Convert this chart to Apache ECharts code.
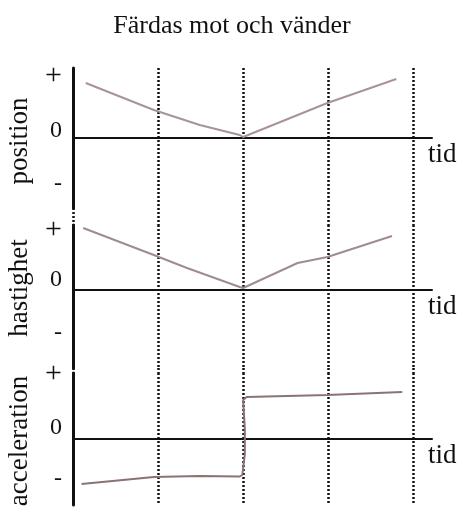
<!DOCTYPE html>
<html>
<head>
<meta charset="utf-8">
<script src="https://cdn.jsdelivr.net/npm/echarts@6/dist/echarts.min.js"></script>
<style>
  html, body { margin: 0; padding: 0; background: #fff; }
  #chart { width: 464px; height: 508px; }
</style>
</head>
<body>
<div id="chart"></div>
<script>
// tidsaxeln: prickade linjer vid varje heltal
var timeTicks = [0, 1, 2, 3, 4];
var signLabels = ['+', '0', '-'];

// [tid, värde]
var positionData = [[0.15, 1.1], [0.95, 0.56], [1.49, 0.26], [1.96, 0.06], [2.0, 0.02], [2.99, 0.7], [3.8, 1.18]];
var velocityData = [[0.12, 1.24], [0.95, 0.7], [1.34, 0.44], [1.96, 0.06], [2.0, 0.04], [2.64, 0.54], [2.99, 0.66], [3.75, 1.08]];
var accelData = [[0.1, -0.9], [0.95, -0.76], [1.49, -0.74], [1.96, -0.75], [1.99, -0.72], [2.02, -0.3], [2.02, 0.2], [2.0, 0.78], [2.04, 0.84], [2.99, 0.88], [3.87, 0.94]];

// var + 0 - sitter på y-axeln
var positionSignValues = [1.24, 0.14, -0.92];
var velocitySignValues = [1.2, 0.2, -0.86];
var accelSignValues = [1.3, 0.22, -0.8];

var serif = "'Liberation Serif', 'DejaVu Serif', serif";
var ink = '#111';

var chart = echarts.init(document.getElementById('chart'));

function timeAxis(gridIndex, withName) {
    return {
        type: 'value',
        gridIndex: gridIndex,
        min: 0,
        max: 4.22,
        interval: 1,
        name: withName ? 'tid' : '',
        nameLocation: 'end',
        nameGap: -4,
        nameTextStyle: {
            fontFamily: serif,
            fontSize: 27,
            color: ink,
            verticalAlign: 'top',
            padding: [3, 0, 0, 0]
        },
        axisLine: { show: withName, onZero: true, lineStyle: { color: ink, width: 2 } },
        axisTick: { show: false, customValues: timeTicks },
        axisLabel: { show: false },
        splitLine: { show: true, lineStyle: { color: ink, width: 2.5, type: [2, 2] } }
    };
}

function signAxis(gridIndex, name, min, max, signValues, namePad) {
    return {
        type: 'value',
        gridIndex: gridIndex,
        min: min,
        max: max,
        name: name,
        nameLocation: 'middle',
        nameRotate: 90,
        nameGap: 40,
        nameTextStyle: {
            fontFamily: serif,
            fontSize: 27,
            color: ink,
            padding: namePad
        },
        axisLine: { show: true, lineStyle: { color: ink, width: 3 } },
        axisTick: { show: false },
        splitLine: { show: false },
        axisLabel: {
            customValues: signValues,
            margin: 11,
            fontFamily: serif,
            fontSize: 24,
            color: ink,
            formatter: function(v) {
                var i = signValues.indexOf(v);
                if (i === 0) return '{plus|+}';
                return i >= 0 ? signLabels[i] : '';
            },
            rich: {
                plus: { fontFamily: serif, fontSize: 30, color: ink }
            }
        }
    };
}

// tomma mellanrum mellan panelerna, bara prickade linjer
function gapAxisY(gridIndex) {
    return { type: 'value', gridIndex: gridIndex, show: false, min: 0, max: 1 };
}

function panel(top, height) {
    return { left: 73, right: 32, top: top, height: height, outerBoundsMode: 'none', containLabel: false };
}

var option = {
    animation: false,
    backgroundColor: '#fff',
    title: {
        text: 'Färdas mot och vänder',
        left: 'center',
        top: 8,
        textStyle: { fontFamily: serif, fontSize: 26, fontWeight: 'normal', color: ink }
    },
    grid: [
        panel(68, 140),
        panel(225, 143),
        panel(373, 132),
        panel(208, 17),
        panel(368, 5)
    ],
    xAxis: [
        timeAxis(0, true),
        timeAxis(1, true),
        timeAxis(2, true),
        timeAxis(3, false),
        timeAxis(4, false)
    ],
    yAxis: [
        signAxis(0, 'position', -1.4, 1.4, positionSignValues, [0, 6, 0, 0]),
        signAxis(1, 'hastighet', -1.56, 1.3, velocitySignValues, [0, 0, 0, 17]),
        signAxis(2, 'acceleration', -1.32, 1.32, accelSignValues, [0, 4, 0, 0]),
        gapAxisY(3),
        gapAxisY(4)
    ],
    series: [
        {
            type: 'line', xAxisIndex: 0, yAxisIndex: 0, data: positionData,
            showSymbol: false, lineStyle: { color: '#a89494', width: 2 }
        },
        {
            type: 'line', xAxisIndex: 1, yAxisIndex: 1, data: velocityData,
            showSymbol: false, lineStyle: { color: '#a08c8c', width: 2 }
        },
        {
            type: 'line', xAxisIndex: 2, yAxisIndex: 2, data: accelData,
            showSymbol: false, lineStyle: { color: '#8c7272', width: 2 }
        }
    ]
};

chart.setOption(option);
</script>
</body>
</html>
